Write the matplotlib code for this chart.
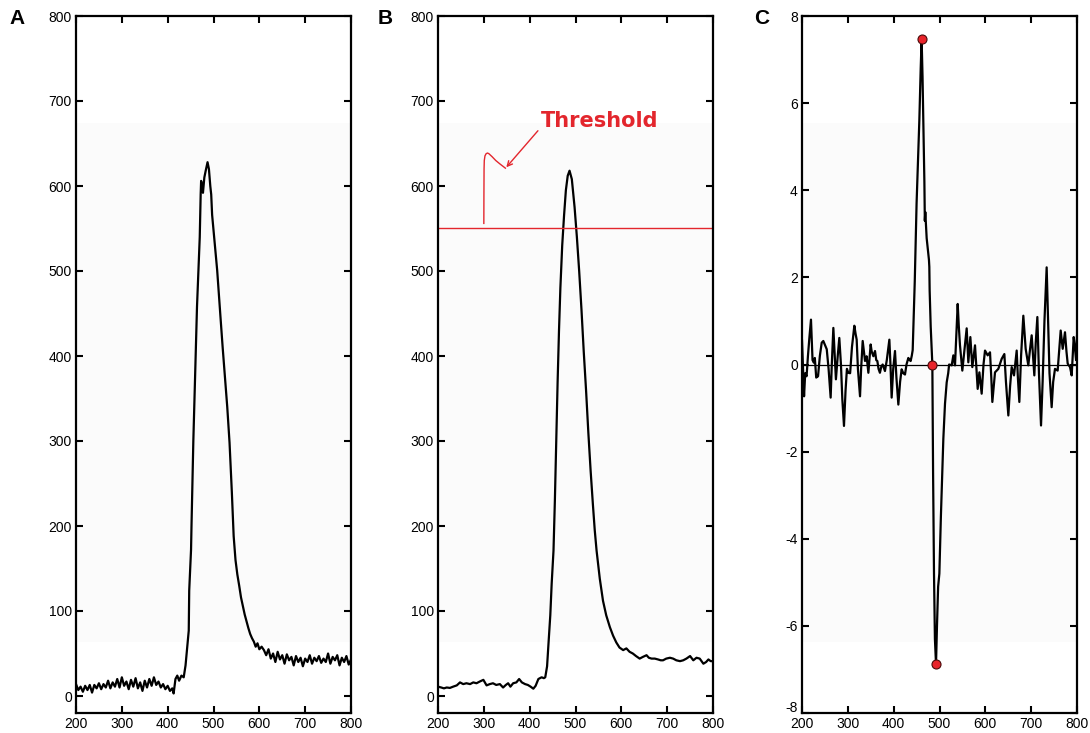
import numpy as np
import matplotlib
matplotlib.use('Agg')
import matplotlib.pyplot as plt
import matplotlib.transforms as mtransforms
from matplotlib.patches import Rectangle

plt.rcParams['font.family'] = ['Liberation Sans', 'DejaVu Sans']
plt.rcParams['axes.unicode_minus'] = False

# panel A: raw trace
a_x = [200, 205, 210, 215, 220, 225, 230, 235, 240, 245, 250, 255, 260, 265, 270, 275,
       280, 285, 290, 295, 300, 305, 310, 315, 320, 325, 330, 335, 340, 345, 350, 355,
       360, 365, 370, 375, 380, 385, 390, 395, 400, 405, 410, 413, 417, 421, 425, 430,
       435, 439, 443, 446, 447, 451, 452, 456, 460, 464, 467, 470, 472, 473, 475, 477,
       480, 483, 487, 490, 493, 495, 497, 500, 504, 508, 512, 516, 520, 525, 530, 535,
       540, 544, 548, 552, 556, 560, 564, 568, 572, 576, 580, 584, 588, 592, 596, 600,
       605, 610, 615, 620, 625, 630, 635, 640, 645, 650, 655, 660, 665, 670, 675, 680,
       685, 690, 695, 700, 705, 710, 715, 720, 725, 730, 735, 740, 745, 750, 755, 760,
       765, 770, 775, 780, 785, 790, 795, 800]
a_y = [14, 7, 11, 5, 12, 7, 13, 4, 13, 9, 15, 8, 14, 10, 18, 9,
       16, 11, 20, 10, 22, 12, 17, 8, 19, 11, 21, 9, 16, 6, 18, 10,
       20, 12, 22, 13, 17, 10, 14, 8, 12, 6, 9, 3, 20, 24, 18, 24,
       22, 36, 60, 77, 124, 172, 200, 300, 380, 458, 500, 540, 590, 606, 600, 592,
       610, 618, 628, 620, 600, 590, 566, 548, 525, 501, 470, 440, 410, 375, 340, 298,
       240, 188, 160, 143, 130, 116, 106, 96, 88, 80, 73, 68, 64, 58, 62, 55,
       58, 54, 48, 55, 44, 50, 40, 52, 43, 48, 38, 49, 42, 46, 36, 47,
       40, 45, 35, 44, 40, 48, 38, 45, 41, 47, 39, 44, 40, 50, 38, 46,
       42, 48, 36, 45, 40, 47, 37, 43]

# panel B: smoothed trace
b_x = [200, 207, 213, 219, 226, 233, 241, 248, 255, 262, 270, 277, 284, 291, 299, 306,
       313, 320, 327, 335, 342, 348, 353, 358, 364, 371, 377, 383, 390, 396, 402, 408,
       413, 419, 426, 431, 434, 438, 441, 445, 448, 452, 455, 458, 461, 464, 467, 471,
       475, 479, 483, 487, 492, 498, 503, 508, 513, 518, 523, 528, 533, 538, 542, 546,
       553, 560, 567, 575, 582, 589, 596, 604, 611, 618, 625, 632, 640, 647, 655, 660,
       666, 673, 680, 686, 691, 698, 706, 713, 720, 728, 735, 742, 750, 757, 764, 771,
       779, 785, 790, 795, 800]
b_y = [11, 10, 9, 10, 9.5, 11, 12.5, 16, 14, 15, 14, 16, 15, 17, 19, 12.5,
       14, 15, 13, 14, 10, 13, 15, 11, 15, 16, 20, 16, 14, 13, 11, 8.6,
       12, 20, 22, 21, 22, 35, 61, 95, 132, 171, 230, 300, 370, 430, 480, 530,
       565, 595, 612, 618, 608, 575, 540, 500, 455, 405, 360, 310, 265, 225, 195, 171,
       138, 112, 95, 81, 71, 63, 57, 54, 56, 52, 50, 47, 44, 46, 48, 45,
       44, 44, 43, 42, 42, 44, 45, 44, 42, 41, 42, 44, 47, 42, 45, 44,
       38, 40, 43, 41, 41]
threshold = 551

# panel C: derivative
c_x = [200, 202, 204.5, 207, 210, 213, 216, 219.6, 223, 226, 228, 231, 235, 239, 243, 246.5,
       250, 254, 258, 262.5, 265, 268.4, 271, 274, 278, 281.4, 285, 288, 291.6, 295, 298, 301,
       305, 309, 314.2, 317, 319.3, 322, 326.6, 329, 332.4, 335, 337.5, 341, 344.8, 349.8,
       352, 355.7, 359.3, 362, 364.4, 367, 370, 373, 376, 381, 385, 390.6, 393, 395.6, 399,
       402.9, 406, 410.2, 414, 417.4, 421, 424.7, 428, 432, 435, 437, 439.5, 441.5, 446,
       450, 452.4, 456, 459, 461, 463, 464.7, 467, 468, 469, 472, 475, 477, 477.8, 478.5,
       480.8, 483, 484.4, 486, 488, 490, 492.4, 494.5, 497, 499.7, 503, 508.4, 512, 515.7,
       519, 521, 526.6, 530.2, 533.8, 536, 539.7, 542, 544.7, 549.8, 554, 559.3, 562.9, 567.3,
       571.6, 577.5, 580, 583.3, 587, 592, 596, 599.3, 605.1, 610.2, 613, 615.3, 621.1, 628.4,
       635.7, 641.5, 645, 650.2, 654, 657.5, 662.6, 668.4, 671, 674.2, 678, 682.9, 688, 693.8,
       697, 701.1, 706.9, 710, 713.5, 717, 721.5, 725, 729, 733.8, 737, 740, 744.7, 748, 752,
       757.8, 761, 764.4, 768.8, 773.8, 777, 779.7, 784.8, 788.4, 792.8, 795.7, 798, 800]
c_y = [0.55, 0.0, -0.73, -0.2, -0.27, 0.2, 0.6, 1.03, 0.1, 0.04, 0.15, -0.3, -0.27, 0.2, 0.5, 0.54,
       0.45, 0.35, -0.1, -0.76, 0.0, 0.84, 0.3, -0.34, 0.2, 0.61, 0.0, -0.8, -1.41, -0.6, -0.1, -0.19,
       -0.2, 0.4, 0.89, 0.7, 0.57, -0.1, -0.73, -0.1, 0.54, 0.3, 0.08, 0.19, -0.19, 0.46,
       0.3, 0.19, 0.31, 0.1, 0.08, -0.1, -0.19, -0.05, 0.0, -0.15, 0.1, 0.57, 0.0, -0.76, -0.1,
       0.31, -0.3, -0.92, -0.4, -0.11, -0.2, -0.23, 0.0, 0.15, 0.1, 0.08, 0.2, 0.33, 1.9,
       3.7, 4.46, 5.6, 6.8, 7.48, 6.6, 5.6, 4.2, 3.3, 3.5, 2.9, 2.6, 2.4, 2.24, 1.7,
       0.87, 0.3, 0.0, -2.5, -4.8, -6.3, -6.88, -6.0, -5.1, -4.8, -3.5, -1.7, -0.9, -0.41,
       -0.2, 0.0, -0.02, 0.21, -0.02, 0.5, 1.39, 0.9, 0.44, -0.14, 0.3, 0.83, 0.05, 0.63,
       -0.06, 0.44, 0.0, -0.56, -0.18, -0.67, 0.0, 0.32, 0.21, 0.28, -0.3, -0.86, -0.18, -0.1,
       0.13, 0.24, -0.4, -1.17, -0.5, -0.06, -0.25, 0.32, -0.3, -0.86, 0.2, 1.12, 0.36, -0.02,
       0.3, 0.67, -0.25, 0.5, 1.09, -0.2, -1.4, -0.4, 1.0, 2.23, 1.0, -0.2, -0.98, -0.4, -0.1,
       -0.14, 0.3, 0.78, 0.36, 0.74, 0.3, 0.02, -0.06, -0.25, 0.63, 0.36, 0.1, 0.65]
c_pts_x = [461, 484.4, 492.4]
c_pts_y = [7.48, 0.0, -6.88]

# hand drawn hook next to the threshold label
hook_x = [300, 300.2, 300.5, 301, 302.5, 305, 308, 311, 318, 326, 335, 347]
hook_y = [556, 590, 620, 630, 635.5, 638, 638.8, 638, 634.5, 630, 626, 621]

RED = '#e3262d'

fig = plt.figure(figsize=(10.9, 7.33), dpi=100)
W = 275 / 1090
H = 697 / 733
B0 = 20 / 733
lefts = [76 / 1090, 438 / 1090, 802 / 1090]
axs = [fig.add_axes([l, B0, W, H]) for l in lefts]


def style(ax):
    for s in ax.spines.values():
        s.set_linewidth(1.6)
    ax.tick_params(direction='in', length=5, width=1.5, top=True, right=True,
                   labelsize=10, pad=3)
    ax.set_xlim(200, 800)
    ax.set_xticks(range(200, 801, 100))
    # faint grey band seen in the source image
    ax.add_patch(Rectangle((0, 0.102), 1, 0.745, transform=ax.transAxes,
                           color='#fbfbfb', zorder=0, lw=0))


ax = axs[0]
style(ax)
ax.plot(a_x, a_y, color='black', lw=1.6)
ax.set_ylim(-20, 800)
ax.set_yticks(range(0, 801, 100))

ax = axs[1]
style(ax)
ax.plot(b_x, b_y, color='black', lw=1.6)
ax.axhline(threshold, color=RED, lw=1.0)
ax.plot(hook_x, hook_y, color=RED, lw=1.0)
ax.annotate('', xy=(349, 622), xytext=(418, 665),
            arrowprops=dict(arrowstyle='->', color=RED, lw=1.0,
                            shrinkA=0, shrinkB=0, mutation_scale=9))
ax.text(553, 677, 'Threshold', color=RED, fontsize=15, fontweight='bold',
        family='DejaVu Sans', ha='center', va='center')
ax.set_ylim(-20, 800)
ax.set_yticks(range(0, 801, 100))

ax = axs[2]
style(ax)
ax.axhline(0, color='black', lw=0.9)
ax.plot(c_x, c_y, color='black', lw=1.6)
ax.plot(c_pts_x, c_pts_y, 'o', color='#e8232a', mec='#4a0a0a', mew=0.8, ms=6.5, zorder=5)
ax.set_ylim(-8, 8)
ax.set_yticks(range(-8, 9, 2))
# lift the bottom "-8" label a little so it sits above the "200"
fig.canvas.draw()
lab8 = ax.get_yticklabels()[0]
lab8.set_transform(lab8.get_transform() +
                   mtransforms.ScaledTranslation(0, 5 / 72, fig.dpi_scale_trans))

for lab, px in zip(['A', 'B', 'C'], [17, 385, 762]):
    fig.text(px / 1090, 1 - 18 / 733, lab, fontsize=15, fontweight='bold',
             ha='center', va='center')

fig.savefig('out.png', dpi=100)
